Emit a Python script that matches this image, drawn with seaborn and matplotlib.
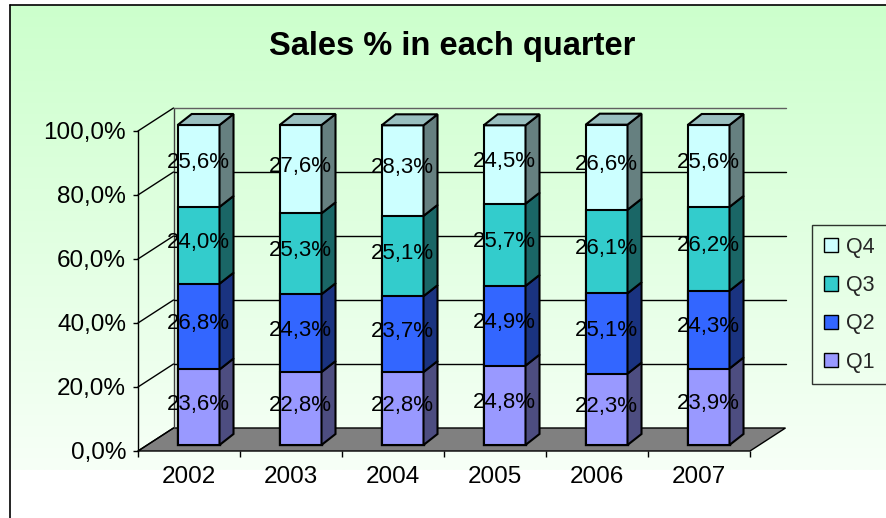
import numpy as np
import pandas as pd
import matplotlib
matplotlib.use("Agg")
import matplotlib.pyplot as plt
import seaborn as sns
from matplotlib.patches import Polygon, Patch
from matplotlib.transforms import ScaledTranslation

# Quarterly share of yearly sales (%)
years = ["2002", "2003", "2004", "2005", "2006", "2007"]
q1 = [23.6, 22.8, 22.8, 24.8, 22.3, 23.9]
q2 = [26.8, 24.3, 23.7, 24.9, 25.1, 24.3]
q3 = [24.0, 25.3, 25.1, 25.7, 26.1, 26.2]
q4 = [25.6, 27.6, 28.3, 24.5, 26.6, 25.6]
quarters = ["Q1", "Q2", "Q3", "Q4"]
y_ticks = [0, 20, 40, 60, 80, 100]

front_colors = ["#9999FF", "#3366FF", "#33CCCC", "#CCFFFF"]


def shade(hex_color, k):
    rgb = np.array(matplotlib.colors.to_rgb(hex_color))
    return tuple(rgb * k)


side_colors = [shade(c, 0.5) for c in front_colors]
top_colors = [shade(c, 0.75) for c in front_colors]

df = pd.DataFrame({"year": years, "Q1": q1, "Q2": q2, "Q3": q3, "Q4": q4})
values = df[quarters].to_numpy().T          # shape (4, n_years)
tops = np.cumsum(values, axis=0)
bottoms = tops - values


def pct(v):
    return f"{v:.1f}".replace(".", ",") + "%"


sns.set_style("white")
plt.rcParams["font.family"] = ["Liberation Sans", "DejaVu Sans"]

W, H = 887, 518
fig = plt.figure(figsize=(W / 100, H / 100), dpi=100)

# chart area background: soft green gradient with a thin frame
bg = fig.add_axes([0, 0, 1, 1], zorder=0)
bg.set_xlim(0, W)
bg.set_ylim(H, 0)
bg.axis("off")
g = np.linspace(0, 1, 256)[:, None, None]
c_top = np.array([204, 255, 204]) / 255
c_bot = np.array([247, 255, 247]) / 255
bg.imshow(c_top + (c_bot - c_top) * g * np.ones((1, 2, 1)),
          extent=[10, W, 470, 5], aspect="auto", interpolation="bilinear")
bg.plot([10, 10], [5, H], color="black", lw=1.2)
bg.plot([10, W], [5, 5], color="black", lw=1.2)

# plot area (front plane of the pseudo-3D box)
ax = fig.add_axes([138 / W, (H - 451) / H, 612 / W, 320 / H], zorder=1)
ax.patch.set_alpha(0)
ax.set_xlim(-0.5, 5.5)
ax.set_ylim(0, 100)

ppx = ax.bbox.width / 6.0      # pixels per category
ppy = ax.bbox.height / 100.0   # pixels per percent


def shifted(dx, dy):
    return ax.transData + ScaledTranslation(dx / 100, dy / 100, fig.dpi_scale_trans)


# depth of the floor / walls and of the bars (in data units)
fx, fy = 35.5 / ppx, 23 / ppy
bx, by = 14 / ppx, 11 / ppy
bar_plane = shifted(9.6, 6)

# floor
ax.add_patch(Polygon([(-0.5, 0), (5.5, 0), (5.5 + fx, fy), (-0.5 + fx, fy)],
                     closed=True, facecolor="#808080", edgecolor="black",
                     lw=1, clip_on=False, zorder=1))
# side wall edge and back-wall gridlines
ax.plot([-0.5 + fx, -0.5 + fx], [fy, 100 + fy], color="#404040", lw=1,
        clip_on=False, zorder=1)
for v in y_ticks:
    ax.plot([-0.5, -0.5 + fx], [v, v + fy], color="black", lw=1,
            clip_on=False, zorder=1)
    if v > 0:
        ax.plot([-0.5 + fx, 5.5 + fx], [v + fy, v + fy],
                color="#606060" if v == 100 else "black", lw=1,
                clip_on=False, zorder=1)

# stacked columns: draw cumulative totals from the top segment down
for k in reversed(range(4)):
    sns.barplot(x=years, y=tops[k], color=front_colors[k], saturation=1,
                width=0.41, edgecolor="black", linewidth=1.5, errorbar=None,
                ax=ax, zorder=3)
    for p in ax.containers[-1]:
        p.set_transform(bar_plane)
        p.set_clip_on(False)

# side and top faces
for i, p in enumerate(ax.containers[-1]):
    x0, w = p.get_x(), p.get_width()
    x1 = x0 + w
    for k in range(4):
        b, t = bottoms[k][i], tops[k][i]
        ax.add_patch(Polygon([(x1, b), (x1 + bx, b + by), (x1 + bx, t + by), (x1, t)],
                             closed=True, facecolor=side_colors[k], edgecolor="black",
                             lw=1.5, transform=bar_plane, clip_on=False, zorder=3))
    t = tops[3][i]
    ax.add_patch(Polygon([(x0, t), (x0 + bx, t + by), (x1 + bx, t + by), (x1, t)],
                         closed=True, facecolor=top_colors[3], edgecolor="black",
                         lw=1.5, transform=bar_plane, clip_on=False, zorder=3))

# value labels
label_tr = shifted(9.6, 9)
for k in range(4):
    for i in range(len(years)):
        ax.text(i, bottoms[k][i] + values[k][i] / 2, pct(values[k][i]),
                transform=label_tr, ha="center", va="center",
                fontsize=16, color="black", zorder=5)

ax.set_xlim(-0.5, 5.5)
ax.set_ylim(0, 100)
ax.set_xlabel("")
ax.set_ylabel("")
ax.set_yticks(y_ticks)
ax.set_yticklabels([pct(v) for v in y_ticks])
ax.set_xticks(range(len(years)))
ax.set_xticklabels(years)
ax.set_xticks(np.arange(-0.5, len(years), 1), minor=True)
ax.tick_params(axis="y", left=True, length=3.6, width=1, direction="out",
               colors="black", labelsize=17.5, pad=5)
ax.tick_params(axis="x", which="major", bottom=True, length=0,
               colors="black", labelsize=17.5, pad=11)
ax.tick_params(axis="x", which="minor", bottom=True, length=4.3, width=1,
               direction="out", color="black")
for s in ["top", "right", "bottom"]:
    ax.spines[s].set_visible(False)
ax.spines["left"].set_color("black")
ax.spines["left"].set_linewidth(1)

fig.text(452 / W, 1 - 55 / H, "Sales % in each quarter", ha="center",
         va="baseline", fontsize=23.5, fontweight="bold", color="black")

handles = [Patch(facecolor=front_colors[k], edgecolor="black", lw=1)
           for k in reversed(range(4))]
leg = fig.legend(handles, [quarters[k] for k in reversed(range(4))],
                 loc="upper left", bbox_to_anchor=(812 / W, 1 - 225 / H),
                 bbox_transform=fig.transFigure, borderaxespad=0,
                 fontsize=15.5, frameon=True, fancybox=False, shadow=False,
                 handlelength=0.65, handleheight=0.65, handletextpad=0.4,
                 labelspacing=0.8, borderpad=0.55)
leg.get_frame().set_edgecolor("black")
leg.get_frame().set_facecolor("none")
leg.get_frame().set_linewidth(1)

fig.savefig("out.png", dpi=100)
